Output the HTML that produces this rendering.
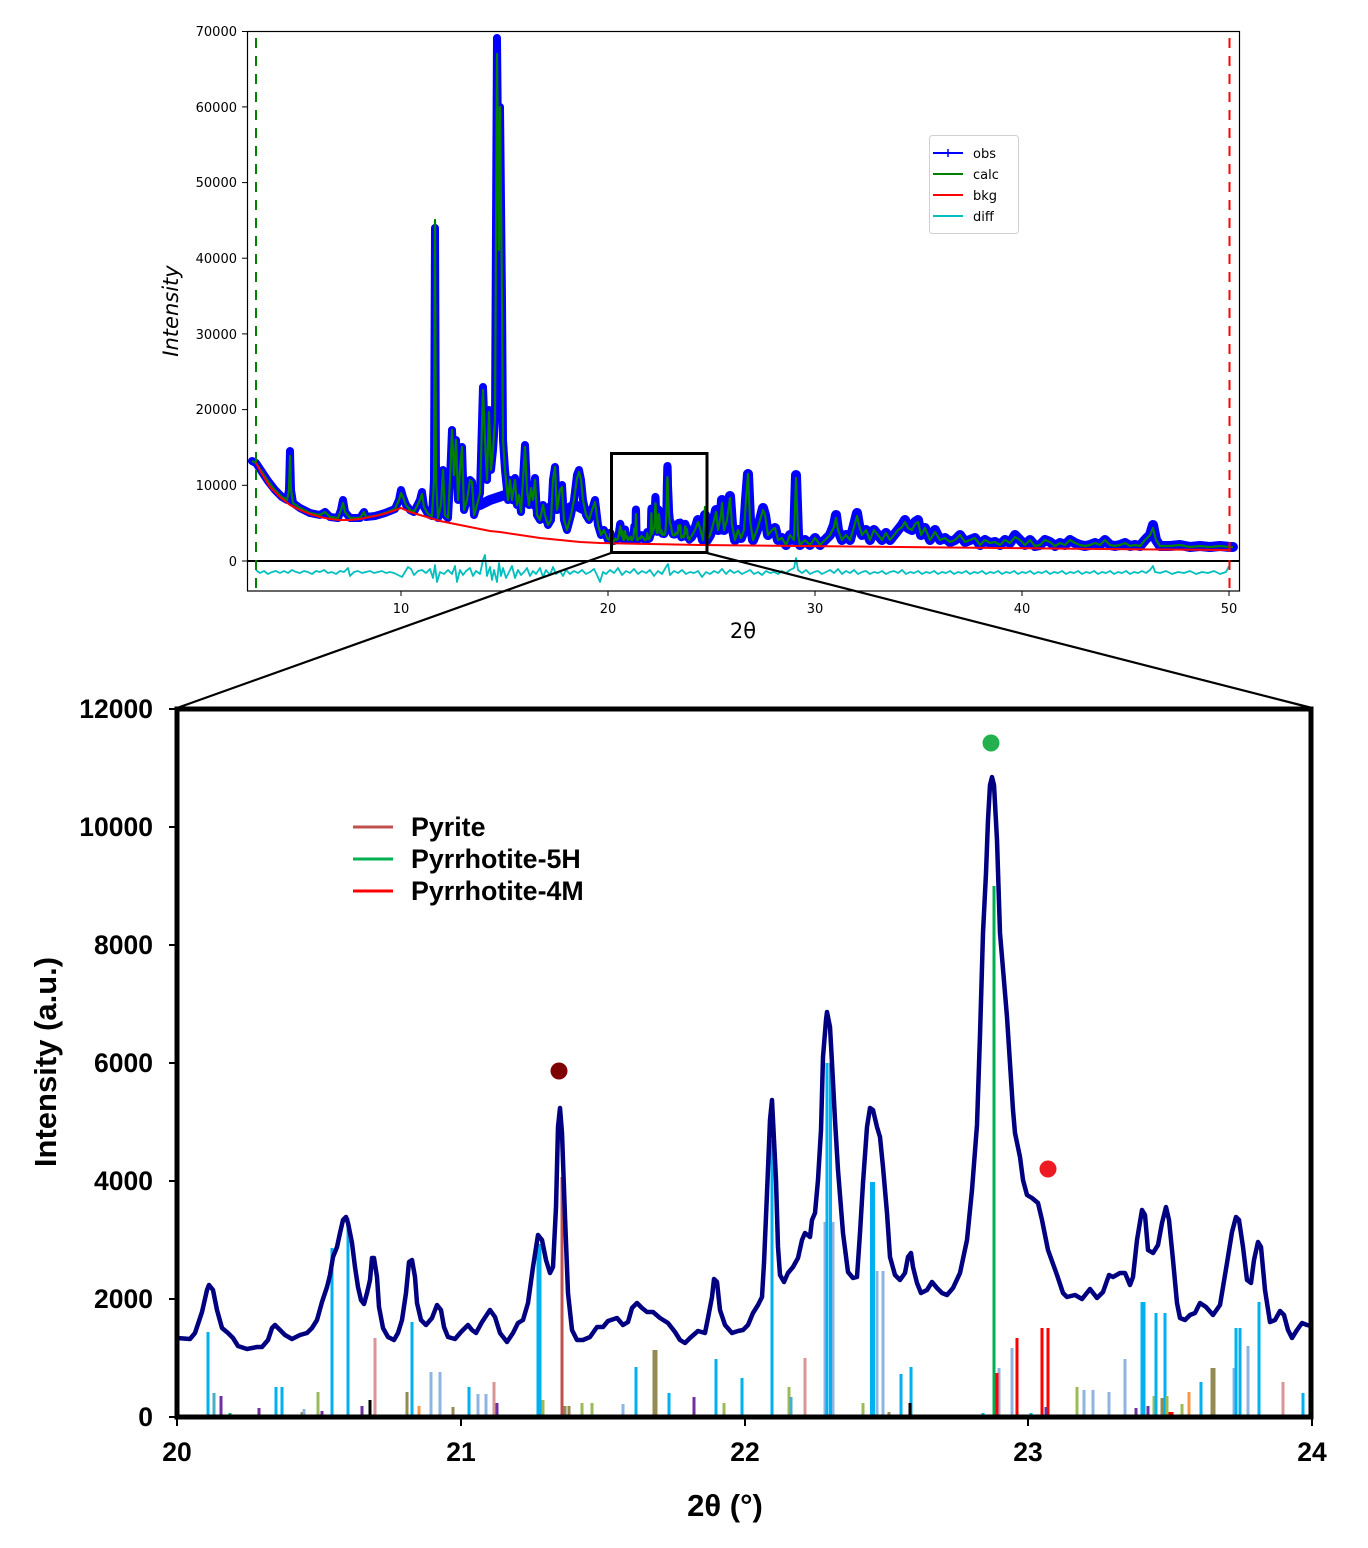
<!DOCTYPE html>
<html><head><meta charset="utf-8"><style>
html,body{margin:0;padding:0;background:#fff;}
svg{display:block;}
.t{font-family:"DejaVu Sans","Liberation Sans",sans-serif;font-size:13px;fill:#000;}
.b{font-family:"Liberation Sans",Arial,sans-serif;font-weight:bold;fill:#000;}
</style></head><body>
<svg width="1368" height="1548" viewBox="0 0 1368 1548" xmlns="http://www.w3.org/2000/svg">
<rect width="1368" height="1548" fill="#fff"/>

<!-- ================= TOP PLOT ================= -->
<!-- obs (blue, thick) -->
<g fill="none" stroke="#0000ff" stroke-width="8" stroke-linejoin="round" stroke-linecap="round">
<path d="M252,461 L256,463 262,472 268,481 275,490 282,497 287,500 289,490 290,451 291,490 293,503 300,508 310,513 320,515 325,512 330,517 338,518 341,510 343,500 345,512 350,518 360,518 364,512 366,517 375,516 385,513 395,509 399,500 401,490 403,497 406,505 410,510 414,512 420,500 422,492 424,507 428,514 432,516 434,480 435,228 436,480 438,518 441,505 443,470 445,515 448,518 450,480 452,430 454,475 456,440 458,500 460,470 462,447 464,510 467,500 470,480 472,482 474,515 477,505 480,493 483,387 485,440 487,480 489,410 491,470 493,450 495,420 497,38 499,250 500,107 502,300 503,440 505,470 508,500 510,480 512,500 515,478 517,505 519,495 521,512 523,480 525,445 527,490 529,505 531,488 533,500 535,478 537,515 540,520 543,505 545,515 548,525 551,520 553,480 555,467 557,510 560,490 562,485 564,520 567,530 571,515 574,500 577,475 579,470 581,480 583,500 586,515 589,520 592,510 595,500 598,525 601,535 604,530 608,540"/>
<path d="M470,490 L480,505 490,500 505,495 515,500 525,495 535,505 545,510 555,505 565,510 575,505 585,510 595,515" stroke-width="10"/>
<path vector-effect="non-scaling-stroke" transform="matrix(0.07295,0,0,0.1314,595.09,363.9)" d="M177,1338 L190,1339 195,1333 202,1312 207,1290 209,1285 213,1290 217,1310 222,1328 228,1333 233,1338 238,1346 247,1349 257,1347 262,1347 268,1340 272,1328 275,1325 280,1330 285,1335 292,1339 300,1335 307,1333 312,1328 317,1320 322,1302 327,1287 330,1275 333,1257 337,1247 340,1233 343,1220 346,1217 348,1223 352,1243 355,1267 358,1287 361,1300 364,1304 367,1293 370,1280 372,1258 374,1258 377,1277 379,1307 383,1328 388,1337 394,1340 398,1333 402,1320 406,1293 409,1262 412,1260 415,1277 417,1303 421,1320 426,1325 432,1318 437,1305 441,1310 444,1327 448,1337 455,1339 461,1332 468,1325 472,1330 476,1333 482,1322 490,1310 495,1317 500,1333 507,1342 513,1333 518,1323 523,1320 528,1303 533,1267 538,1235 542,1240 546,1260 550,1273 553,1267 556,1207 558,1127 560,1108 562,1133 565,1217 568,1293 572,1330 577,1340 583,1340 590,1337 597,1327 603,1327 608,1321 617,1318 623,1325 628,1322 632,1308 637,1303 642,1308 647,1312 653,1312 660,1318 668,1323 675,1332 680,1340 685,1343 690,1338 698,1331 705,1333 708,1318 712,1297 714,1279 717,1282 720,1310 725,1325 732,1333 738,1331 743,1330 748,1325 753,1313 758,1305 762,1297 764,1263 767,1193 770,1120 772,1100 773,1120 776,1180 778,1247 780,1275 784,1282 788,1273 793,1267 798,1258 802,1240 805,1233 810,1237 812,1220 815,1213 818,1180 821,1130 823,1057 826,1020 827,1012 830,1027 832,1063 835,1120 838,1170 843,1233 848,1272 853,1278 857,1277 860,1233 863,1183 867,1127 870,1108 873,1110 877,1127 880,1137 883,1167 887,1213 890,1257 895,1275 900,1280 905,1273 908,1257 911,1253 913,1267 917,1283 921,1293 927,1290 932,1282 937,1288 942,1293 947,1295 953,1288 960,1273 967,1240 972,1190 977,1125 980,1035 983,933 986,873 988,820 990,785 992,777 994,785 997,840 1000,933 1007,1017 1013,1110 1015,1133 1020,1157 1023,1180 1027,1195 1032,1198 1038,1203 1042,1220 1048,1250 1057,1275 1063,1293 1067,1297 1075,1295 1082,1299 1090,1289 1097,1298 1103,1292 1109,1275 1113,1277 1120,1273 1125,1273 1130,1285 1133,1277 1137,1240 1142,1210 1145,1215 1148,1250 1153,1253 1158,1245 1162,1223 1166,1207 1169,1220 1173,1260 1177,1303 1180,1318 1185,1320 1190,1315 1195,1313 1200,1303 1206,1307 1213,1315 1220,1305 1223,1287 1227,1263 1232,1232 1236,1217 1239,1220 1243,1247 1247,1280 1251,1283 1254,1260 1258,1242 1261,1247 1265,1290 1270,1322 1275,1320 1280,1311 1284,1315 1288,1330 1292,1338 1297,1330 1302,1323 1307,1325 1311,1326"/>
<path stroke-width="10" d="M691,537 L695,530 698,520 700,528 703,540 705,515 707,540 710,535 713,525 716,510 718,530 721,515 722,500 724,530 727,520 730,496 732,525 735,540 738,530 741,538 744,530 746,500 748,474 750,520 753,540 757,530 760,520 763,508 765,515 768,535 772,530 775,528 778,540 782,538 786,545 790,535 794,540 796,475 798,535 800,545 805,540 810,545 815,538 820,545 825,540 830,535 834,525 836,515 838,530 842,540 846,535 850,540 854,525 857,513 859,525 862,535 866,530 870,540 874,530 878,535 882,540 886,533 890,540 894,535 898,530 902,525 905,520 908,528 912,530 915,522 918,520 921,535 925,528 930,540 935,530 940,540 945,538 950,542 955,540 960,535 965,542 970,540 975,538 980,545 985,540 990,543 995,542 1000,545 1005,540 1010,543 1015,535 1020,540 1025,545 1030,540 1035,546 1040,545 1045,540 1050,542 1055,546 1060,543 1065,545 1070,540 1075,543 1080,545 1085,546 1090,545 1095,543 1100,545 1105,540 1110,545 1115,546 1120,545 1125,543 1130,546 1135,545 1140,546 1145,540 1150,535 1153,525 1156,540 1160,546 1170,546 1180,545 1190,547 1200,546 1210,547 1220,546 1230,547 1233,547"/>
</g>
<!-- calc (green) -->
<g fill="none" stroke="#008000" stroke-width="2.2" stroke-linejoin="round">
<path d="M252,461 L256,463 262,472 268,481 275,490 282,497 287,500 289,490 290,456 291,490 293,503 300,508 310,513 320,515 325,512 330,517 338,518 341,510 343,503 345,512 350,518 360,518 364,512 366,517 375,516 385,513 395,509 399,500 401,493 403,497 406,505 410,510 414,512 420,500 422,494 424,507 428,514 432,516 434,480 435,220 436,480 438,518 441,505 443,470 445,515 448,518 450,480 452,430 454,475 456,440 458,500 460,470 462,447 464,510 467,500 470,480 472,482 474,515 477,505 480,493 483,390 485,440 487,480 489,412 491,470 493,450 495,420 497,54 499,250 500,107 502,300 503,440 505,470 508,500 510,480 512,500 515,480 517,505 519,495 521,512 523,480 525,447 527,490 529,505 531,488 533,500 535,480 537,515 540,520 543,505 545,515 548,525 551,520 553,480 555,467 557,510 560,490 562,487 564,520 567,530 571,515 574,500 577,478 579,472 581,480 583,500 586,515 589,520 592,510 595,502 598,525 601,535 604,530 608,540"/>
<path vector-effect="non-scaling-stroke" transform="matrix(0.07295,0,0,0.1119,595.09,390.1)" d="M177,1338 L190,1339 195,1333 202,1312 207,1290 209,1285 213,1290 217,1310 222,1328 228,1333 233,1338 238,1346 247,1349 257,1347 262,1347 268,1340 272,1328 275,1325 280,1330 285,1335 292,1339 300,1335 307,1333 312,1328 317,1320 322,1302 327,1287 330,1275 333,1257 337,1247 340,1233 343,1220 346,1217 348,1223 352,1243 355,1267 358,1287 361,1300 364,1304 367,1293 370,1280 372,1258 374,1258 377,1277 379,1307 383,1328 388,1337 394,1340 398,1333 402,1320 406,1293 409,1262 412,1260 415,1277 417,1303 421,1320 426,1325 432,1318 437,1305 441,1310 444,1327 448,1337 455,1339 461,1332 468,1325 472,1330 476,1333 482,1322 490,1310 495,1317 500,1333 507,1342 513,1333 518,1323 523,1320 528,1303 533,1267 538,1235 542,1240 546,1260 550,1273 553,1267 556,1207 558,1127 560,1108 562,1133 565,1217 568,1293 572,1330 577,1340 583,1340 590,1337 597,1327 603,1327 608,1321 617,1318 623,1325 628,1322 632,1308 637,1303 642,1308 647,1312 653,1312 660,1318 668,1323 675,1332 680,1340 685,1343 690,1338 698,1331 705,1333 708,1318 712,1297 714,1279 717,1282 720,1310 725,1325 732,1333 738,1331 743,1330 748,1325 753,1313 758,1305 762,1297 764,1263 767,1193 770,1120 772,1100 773,1120 776,1180 778,1247 780,1275 784,1282 788,1273 793,1267 798,1258 802,1240 805,1233 810,1237 812,1220 815,1213 818,1180 821,1130 823,1057 826,1020 827,1012 830,1027 832,1063 835,1120 838,1170 843,1233 848,1272 853,1278 857,1277 860,1233 863,1183 867,1127 870,1108 873,1110 877,1127 880,1137 883,1167 887,1213 890,1257 895,1275 900,1280 905,1273 908,1257 911,1253 913,1267 917,1283 921,1293 927,1290 932,1282 937,1288 942,1293 947,1295 953,1288 960,1273 967,1240 972,1190 977,1125 980,1035 983,933 986,873 988,820 990,785 992,777 994,785 997,840 1000,933 1007,1017 1013,1110 1015,1133 1020,1157 1023,1180 1027,1195 1032,1198 1038,1203 1042,1220 1048,1250 1057,1275 1063,1293 1067,1297 1075,1295 1082,1299 1090,1289 1097,1298 1103,1292 1109,1275 1113,1277 1120,1273 1125,1273 1130,1285 1133,1277 1137,1240 1142,1210 1145,1215 1148,1250 1153,1253 1158,1245 1162,1223 1166,1207 1169,1220 1173,1260 1177,1303 1180,1318 1185,1320 1190,1315 1195,1313 1200,1303 1206,1307 1213,1315 1220,1305 1223,1287 1227,1263 1232,1232 1236,1217 1239,1220 1243,1247 1247,1280 1251,1283 1254,1260 1258,1242 1261,1247 1265,1290 1270,1322 1275,1320 1280,1311 1284,1315 1288,1330 1292,1338 1297,1330 1302,1323 1307,1325 1311,1326"/>
<path d="M691,537 L695,530 698,522 700,528 703,540 705,507 707,540 710,535 713,525 716,512 718,530 721,515 722,503 724,530 727,520 730,498 732,525 735,540 738,530 741,538 744,530 746,500 748,474 750,520 753,540 757,530 760,520 763,510 765,515 768,535 772,530 775,528 778,540 782,538 786,545 790,535 794,540 796,478 798,535 800,545 805,540 810,545 815,538 820,545 825,540 830,535 834,527 836,518 838,530 842,540 846,535 850,540 854,527 857,516 859,525 862,535 866,530 870,540 874,530 878,535 882,540 886,533 890,540 894,535 898,530 902,527 905,522 908,528 912,530 915,524 918,522 921,535 925,528 930,540 935,532 940,540 945,538 950,542 955,540 960,535 965,542 970,540 975,538 980,545 985,540 990,543 995,542 1000,545 1005,540 1010,543 1015,537 1020,540 1025,545 1030,540 1035,546 1040,545 1045,540 1050,542 1055,546 1060,543 1065,545 1070,540 1075,543 1080,545 1085,546 1090,545 1095,543 1100,545 1105,540 1110,545 1115,546 1120,545 1125,543 1130,546 1135,545 1140,546 1145,540 1150,535 1153,528 1156,540 1160,546 1170,546 1180,545 1190,547 1200,546 1210,547 1220,546 1230,547 1233,547"/>
</g>
<!-- bkg -->
<path fill="none" stroke="#ff0000" stroke-width="2" d="M256,463 L262,474 270,487 280,497 290,505 300,510 310,514 320,517 330,519 340,520 350,520 360,519 370,517 380,515 390,512 401,508 410,512 420,515 430,518 440,521 450,523 460,525 470,527 480,529 490,531 500,532 520,535 540,538 560,540 580,542 600,543 650,544 700,545 800,546 900,547 1000,548 1100,549 1229,550"/>
<!-- diff -->
<path fill="none" stroke="#00bfbf" stroke-width="1.8" stroke-linejoin="round" d="M256,570 L260,573 264,571 268,574 272,572 276,571 280,573 284,571 288,573 292,570 296,572 300,573 304,571 308,572 312,574 316,571 320,572 324,570 328,573 332,572 336,574 340,571 344,572 348,568 350,576 354,572 358,571 362,573 366,572 370,571 374,573 378,572 382,571 386,573 390,572 394,573 398,575 402,577 405,572 408,567 411,569 414,575 418,571 422,570 426,573 430,569 433,578 435,565 437,582 440,572 444,574 448,570 452,574 455,566 457,582 460,570 463,575 466,571 470,568 473,576 476,571 480,574 483,560 485,555 487,576 490,567 492,580 494,570 497,582 499,563 501,576 503,568 506,578 509,572 512,566 515,578 518,570 521,575 524,572 527,568 530,576 533,571 536,574 540,568 543,577 546,570 550,575 553,567 556,574 560,571 563,576 566,570 570,574 574,571 578,573 582,570 586,574 590,572 594,569 597,575 600,582 603,572 606,574 610,570 614,573 618,568 622,575 626,571 630,573 634,569 638,574 642,571 646,573 650,570 654,576 658,571 662,574 666,567 668,564 670,575 674,571 678,573 682,570 686,574 690,572 694,573 698,571 702,577 706,572 710,574 714,571 718,573 722,569 726,574 730,570 734,573 738,571 742,574 746,572 750,570 754,574 758,572 762,575 766,571 770,573 774,572 778,574 782,571 786,573 790,570 794,568 796,558 798,570 802,573 806,570 810,574 814,572 818,571 822,574 826,572 830,570 834,573 838,569 842,574 846,571 850,573 854,570 858,574 862,572 866,571 870,574 874,572 878,573 882,571 886,574 890,572 894,571 898,573 902,570 906,574 910,572 914,573 918,571 922,574 926,572 930,573 934,571 938,574 942,572 946,573 950,571 954,574 958,572 962,573 966,571 970,574 974,572 978,573 982,571 986,574 990,572 994,573 998,571 1002,574 1006,572 1010,573 1014,571 1018,574 1022,572 1026,573 1030,571 1034,574 1038,572 1042,573 1046,571 1050,574 1054,572 1058,573 1062,571 1066,574 1070,572 1074,573 1078,571 1082,574 1086,572 1090,573 1094,571 1098,574 1102,572 1106,573 1110,571 1114,574 1118,572 1122,573 1126,571 1130,574 1134,572 1138,573 1142,571 1146,573 1150,570 1153,566 1155,572 1160,573 1166,571 1172,574 1178,572 1184,573 1190,571 1196,574 1202,572 1208,573 1214,571 1220,574 1226,572 1229,566"/>
<!-- zero line -->
<line x1="247" y1="561" x2="1240" y2="561" stroke="#000" stroke-width="2"/>
<!-- range dashed lines -->
<line x1="256" y1="38" x2="256" y2="591" stroke="#008000" stroke-width="2" stroke-dasharray="10,8"/>
<line x1="1229.5" y1="38" x2="1229.5" y2="591" stroke="#ff0000" stroke-width="2" stroke-dasharray="10,8"/>
<!-- top frame -->
<rect x="247.5" y="31.5" width="992" height="559.5" fill="none" stroke="#000" stroke-width="1.2"/>
<!-- top y ticks -->
<g stroke="#000" stroke-width="1">
<line x1="242" y1="561" x2="247" y2="561"/>
<line x1="242" y1="485.3" x2="247" y2="485.3"/>
<line x1="242" y1="409.6" x2="247" y2="409.6"/>
<line x1="242" y1="333.9" x2="247" y2="333.9"/>
<line x1="242" y1="258.2" x2="247" y2="258.2"/>
<line x1="242" y1="182.6" x2="247" y2="182.6"/>
<line x1="242" y1="106.9" x2="247" y2="106.9"/>
<line x1="242" y1="31.5" x2="247" y2="31.5"/>
<line x1="401" y1="591" x2="401" y2="596"/>
<line x1="608" y1="591" x2="608" y2="596"/>
<line x1="815" y1="591" x2="815" y2="596"/>
<line x1="1022" y1="591" x2="1022" y2="596"/>
<line x1="1229" y1="591" x2="1229" y2="596"/>
</g>
<g class="t" text-anchor="end">
<text x="237" y="566">0</text>
<text x="237" y="490">10000</text>
<text x="237" y="414">20000</text>
<text x="237" y="339">30000</text>
<text x="237" y="263">40000</text>
<text x="237" y="187">50000</text>
<text x="237" y="112">60000</text>
<text x="237" y="36">70000</text>
</g>
<g class="t" text-anchor="middle">
<text x="401" y="613">10</text>
<text x="608" y="613">20</text>
<text x="815" y="613">30</text>
<text x="1022" y="613">40</text>
<text x="1229" y="613">50</text>
</g>
<text class="t" style="font-size:21px" x="743" y="638" text-anchor="middle">2θ</text>
<text class="t" style="font-size:21px;font-style:italic" transform="translate(178,311) rotate(-90)" text-anchor="middle">Intensity</text>
<!-- top legend -->
<rect x="929.5" y="135.5" width="89" height="98" rx="3" fill="#fff" stroke="#d0d0d0" stroke-width="1"/>
<g stroke-width="2">
<line x1="933" y1="153" x2="963" y2="153" stroke="#0000ff"/>
<line x1="944" y1="153" x2="952" y2="153" stroke="#0000ff"/>
<line x1="948" y1="149" x2="948" y2="157" stroke="#0000ff" stroke-width="1.5"/>
<line x1="933" y1="174" x2="963" y2="174" stroke="#008000"/>
<line x1="933" y1="195" x2="963" y2="195" stroke="#ff0000"/>
<line x1="933" y1="216" x2="963" y2="216" stroke="#00bfbf"/>
</g>
<g class="t">
<text x="973" y="158">obs</text>
<text x="973" y="179">calc</text>
<text x="973" y="200">bkg</text>
<text x="973" y="221">diff</text>
</g>

<!-- zoom box and connectors -->
<rect x="611.5" y="453.5" width="95.5" height="99" fill="none" stroke="#000" stroke-width="3"/>
<line x1="611" y1="553" x2="177" y2="708" stroke="#000" stroke-width="2.2"/>
<line x1="707" y1="553" x2="1312" y2="708" stroke="#000" stroke-width="2.2"/>

<!-- ================= BOTTOM PLOT ================= -->
<!-- reference sticks -->
<g stroke-width="3">
<line x1="208" y1="1417" x2="208" y2="1332" stroke="#00b0f0"/>
<line x1="214" y1="1417" x2="214" y2="1393" stroke="#4bacc6"/>
<line x1="221" y1="1417" x2="221" y2="1396" stroke="#7030a0"/>
<line x1="230" y1="1417" x2="230" y2="1413" stroke="#00b050"/>
<line x1="259" y1="1417" x2="259" y2="1408" stroke="#7030a0"/>
<line x1="276" y1="1417" x2="276" y2="1387" stroke="#00b0f0"/>
<line x1="282" y1="1417" x2="282" y2="1387" stroke="#00b0f0"/>
<line x1="302" y1="1417" x2="302" y2="1412" stroke="#948a54"/>
<line x1="304" y1="1417" x2="304" y2="1409" stroke="#8db4e2"/>
<line x1="318" y1="1417" x2="318" y2="1392" stroke="#9bbb59"/>
<line x1="322" y1="1417" x2="322" y2="1411" stroke="#7030a0"/>
<line x1="332" y1="1417" x2="332" y2="1248" stroke="#00b0f0"/>
<line x1="348" y1="1417" x2="348" y2="1218" stroke="#00b0f0"/>
<line x1="362" y1="1417" x2="362" y2="1406" stroke="#7030a0"/>
<line x1="370" y1="1417" x2="370" y2="1400" stroke="#000"/>
<line x1="375" y1="1417" x2="375" y2="1338" stroke="#da9694"/>
<line x1="407" y1="1417" x2="407" y2="1392" stroke="#948a54"/>
<line x1="412" y1="1417" x2="412" y2="1322" stroke="#00b0f0"/>
<line x1="419" y1="1417" x2="419" y2="1406" stroke="#f79646"/>
<line x1="431" y1="1417" x2="431" y2="1372" stroke="#8db4e2"/>
<line x1="440" y1="1417" x2="440" y2="1372" stroke="#8db4e2"/>
<line x1="453" y1="1417" x2="453" y2="1407" stroke="#948a54"/>
<line x1="469" y1="1417" x2="469" y2="1387" stroke="#00b0f0"/>
<line x1="478" y1="1417" x2="478" y2="1394" stroke="#8db4e2"/>
<line x1="486" y1="1417" x2="486" y2="1394" stroke="#8db4e2"/>
<line x1="494" y1="1417" x2="494" y2="1382" stroke="#da9694"/>
<line x1="497" y1="1417" x2="497" y2="1403" stroke="#7030a0"/>
<line x1="539" y1="1417" x2="539" y2="1244" stroke="#00b0f0" stroke-width="5"/>
<line x1="543" y1="1417" x2="543" y2="1400" stroke="#9bbb59"/>
<line x1="562" y1="1417" x2="562" y2="1177" stroke="#c0504d"/>
<line x1="565" y1="1417" x2="565" y2="1406" stroke="#948a54"/>
<line x1="569" y1="1417" x2="569" y2="1406" stroke="#948a54"/>
<line x1="582" y1="1417" x2="582" y2="1403" stroke="#9bbb59"/>
<line x1="592" y1="1417" x2="592" y2="1403" stroke="#9bbb59"/>
<line x1="623" y1="1417" x2="623" y2="1404" stroke="#8db4e2"/>
<line x1="636" y1="1417" x2="636" y2="1367" stroke="#00b0f0"/>
<line x1="655" y1="1417" x2="655" y2="1350" stroke="#948a54" stroke-width="5"/>
<line x1="669" y1="1417" x2="669" y2="1393" stroke="#00b0f0"/>
<line x1="694" y1="1417" x2="694" y2="1397" stroke="#7030a0"/>
<line x1="716" y1="1417" x2="716" y2="1359" stroke="#00b0f0"/>
<line x1="724" y1="1417" x2="724" y2="1403" stroke="#9bbb59"/>
<line x1="742" y1="1417" x2="742" y2="1378" stroke="#00b0f0"/>
<line x1="772" y1="1417" x2="772" y2="1140" stroke="#00b0f0"/>
<line x1="789" y1="1417" x2="789" y2="1387" stroke="#9bbb59"/>
<line x1="791" y1="1417" x2="791" y2="1397" stroke="#4bacc6"/>
<line x1="805" y1="1417" x2="805" y2="1358" stroke="#da9694"/>
<line x1="825" y1="1417" x2="825" y2="1222" stroke="#8db4e2"/>
<line x1="833" y1="1417" x2="833" y2="1222" stroke="#8db4e2"/>
<line x1="827" y1="1417" x2="827" y2="1063" stroke="#00b0f0"/>
<line x1="830.5" y1="1417" x2="830.5" y2="1063" stroke="#00b0f0"/>
<line x1="863" y1="1417" x2="863" y2="1403" stroke="#9bbb59"/>
<line x1="872.5" y1="1417" x2="872.5" y2="1182" stroke="#00b0f0" stroke-width="5"/>
<line x1="877" y1="1417" x2="877" y2="1271" stroke="#8db4e2"/>
<line x1="883" y1="1417" x2="883" y2="1271" stroke="#8db4e2"/>
<line x1="889" y1="1417" x2="889" y2="1412" stroke="#948a54"/>
<line x1="901" y1="1417" x2="901" y2="1374" stroke="#00b0f0"/>
<line x1="911" y1="1417" x2="911" y2="1367" stroke="#00b0f0"/>
<line x1="910" y1="1417" x2="910" y2="1403" stroke="#000"/>
<line x1="983" y1="1417" x2="983" y2="1413" stroke="#00b0f0"/>
<line x1="994" y1="1417" x2="994" y2="886" stroke="#00b050"/>
<line x1="999" y1="1417" x2="999" y2="1368" stroke="#8db4e2"/>
<line x1="997" y1="1417" x2="997" y2="1373" stroke="#ff0000"/>
<line x1="1012" y1="1417" x2="1012" y2="1348" stroke="#8db4e2"/>
<line x1="1017" y1="1417" x2="1017" y2="1338" stroke="#ff0000"/>
<line x1="1031" y1="1417" x2="1031" y2="1413" stroke="#00b0f0"/>
<line x1="1042" y1="1417" x2="1042" y2="1328" stroke="#ff0000"/>
<line x1="1048" y1="1417" x2="1048" y2="1328" stroke="#ff0000"/>
<line x1="1046" y1="1417" x2="1046" y2="1407" stroke="#7030a0"/>
<line x1="1077" y1="1417" x2="1077" y2="1387" stroke="#9bbb59"/>
<line x1="1084" y1="1417" x2="1084" y2="1390" stroke="#8db4e2"/>
<line x1="1093" y1="1417" x2="1093" y2="1390" stroke="#8db4e2"/>
<line x1="1109" y1="1417" x2="1109" y2="1392" stroke="#8db4e2"/>
<line x1="1125" y1="1417" x2="1125" y2="1359" stroke="#8db4e2"/>
<line x1="1136" y1="1417" x2="1136" y2="1408" stroke="#7030a0"/>
<line x1="1143" y1="1417" x2="1143" y2="1302" stroke="#00b0f0" stroke-width="5"/>
<line x1="1148" y1="1417" x2="1148" y2="1406" stroke="#7030a0"/>
<line x1="1154" y1="1417" x2="1154" y2="1396" stroke="#9bbb59"/>
<line x1="1156" y1="1417" x2="1156" y2="1313" stroke="#00b0f0"/>
<line x1="1162" y1="1417" x2="1162" y2="1398" stroke="#948a54"/>
<line x1="1165" y1="1417" x2="1165" y2="1313" stroke="#00b0f0"/>
<line x1="1167" y1="1417" x2="1167" y2="1396" stroke="#9bbb59"/>
<line x1="1171" y1="1417" x2="1171" y2="1412" stroke="#ff0000" stroke-width="5"/>
<line x1="1182" y1="1417" x2="1182" y2="1404" stroke="#9bbb59"/>
<line x1="1189" y1="1417" x2="1189" y2="1392" stroke="#f79646"/>
<line x1="1201" y1="1417" x2="1201" y2="1382" stroke="#00b0f0"/>
<line x1="1213" y1="1417" x2="1213" y2="1368" stroke="#948a54" stroke-width="5"/>
<line x1="1234" y1="1417" x2="1234" y2="1368" stroke="#8db4e2"/>
<line x1="1236" y1="1417" x2="1236" y2="1328" stroke="#00b0f0"/>
<line x1="1240" y1="1417" x2="1240" y2="1328" stroke="#00b0f0"/>
<line x1="1248" y1="1417" x2="1248" y2="1346" stroke="#8db4e2"/>
<line x1="1259" y1="1417" x2="1259" y2="1302" stroke="#00b0f0"/>
<line x1="1283" y1="1417" x2="1283" y2="1382" stroke="#da9694"/>
<line x1="1303" y1="1417" x2="1303" y2="1393" stroke="#00b0f0"/>
</g>
<!-- measured pattern -->
<path fill="none" stroke="#000080" stroke-width="4.5" stroke-linejoin="round" stroke-linecap="round" d="M177,1338 L190,1339 195,1333 202,1312 207,1290 209,1285 213,1290 217,1310 222,1328 228,1333 233,1338 238,1346 247,1349 257,1347 262,1347 268,1340 272,1328 275,1325 280,1330 285,1335 292,1339 300,1335 307,1333 312,1328 317,1320 322,1302 327,1287 330,1275 333,1257 337,1247 340,1233 343,1220 346,1217 348,1223 352,1243 355,1267 358,1287 361,1300 364,1304 367,1293 370,1280 372,1258 374,1258 377,1277 379,1307 383,1328 388,1337 394,1340 398,1333 402,1320 406,1293 409,1262 412,1260 415,1277 417,1303 421,1320 426,1325 432,1318 437,1305 441,1310 444,1327 448,1337 455,1339 461,1332 468,1325 472,1330 476,1333 482,1322 490,1310 495,1317 500,1333 507,1342 513,1333 518,1323 523,1320 528,1303 533,1267 538,1235 542,1240 546,1260 550,1273 553,1267 556,1207 558,1127 560,1108 562,1133 565,1217 568,1293 572,1330 577,1340 583,1340 590,1337 597,1327 603,1327 608,1321 617,1318 623,1325 628,1322 632,1308 637,1303 642,1308 647,1312 653,1312 660,1318 668,1323 675,1332 680,1340 685,1343 690,1338 698,1331 705,1333 708,1318 712,1297 714,1279 717,1282 720,1310 725,1325 732,1333 738,1331 743,1330 748,1325 753,1313 758,1305 762,1297 764,1263 767,1193 770,1120 772,1100 773,1120 776,1180 778,1247 780,1275 784,1282 788,1273 793,1267 798,1258 802,1240 805,1233 810,1237 812,1220 815,1213 818,1180 821,1130 823,1057 826,1020 827,1012 830,1027 832,1063 835,1120 838,1170 843,1233 848,1272 853,1278 857,1277 860,1233 863,1183 867,1127 870,1108 873,1110 877,1127 880,1137 883,1167 887,1213 890,1257 895,1275 900,1280 905,1273 908,1257 911,1253 913,1267 917,1283 921,1293 927,1290 932,1282 937,1288 942,1293 947,1295 953,1288 960,1273 967,1240 972,1190 977,1125 980,1035 983,933 986,873 988,820 990,785 992,777 994,785 997,840 1000,933 1007,1017 1013,1110 1015,1133 1020,1157 1023,1180 1027,1195 1032,1198 1038,1203 1042,1220 1048,1250 1057,1275 1063,1293 1067,1297 1075,1295 1082,1299 1090,1289 1097,1298 1103,1292 1109,1275 1113,1277 1120,1273 1125,1273 1130,1285 1133,1277 1137,1240 1142,1210 1145,1215 1148,1250 1153,1253 1158,1245 1162,1223 1166,1207 1169,1220 1173,1260 1177,1303 1180,1318 1185,1320 1190,1315 1195,1313 1200,1303 1206,1307 1213,1315 1220,1305 1223,1287 1227,1263 1232,1232 1236,1217 1239,1220 1243,1247 1247,1280 1251,1283 1254,1260 1258,1242 1261,1247 1265,1290 1270,1322 1275,1320 1280,1311 1284,1315 1288,1330 1292,1338 1297,1330 1302,1323 1307,1325 1311,1326"/>
<!-- phase markers -->
<circle cx="559" cy="1071" r="8.5" fill="#7f0000"/>
<circle cx="991" cy="743" r="8.5" fill="#22b14c"/>
<circle cx="1048" cy="1169" r="8.5" fill="#ed1c24"/>
<!-- frame -->
<rect x="177" y="709" width="1134" height="708" fill="none" stroke="#000" stroke-width="5"/>
<!-- ticks -->
<g stroke="#000" stroke-width="2">
<line x1="169" y1="1417" x2="177" y2="1417"/>
<line x1="169" y1="1299" x2="177" y2="1299"/>
<line x1="169" y1="1181" x2="177" y2="1181"/>
<line x1="169" y1="1063" x2="177" y2="1063"/>
<line x1="169" y1="945" x2="177" y2="945"/>
<line x1="169" y1="827" x2="177" y2="827"/>
<line x1="169" y1="709" x2="177" y2="709"/>
<line x1="177" y1="1417" x2="177" y2="1426"/>
<line x1="461" y1="1417" x2="461" y2="1426"/>
<line x1="745" y1="1417" x2="745" y2="1426"/>
<line x1="1028" y1="1417" x2="1028" y2="1426"/>
<line x1="1312" y1="1417" x2="1312" y2="1426"/>
</g>
<g class="b" style="font-size:26.5px" text-anchor="end">
<text x="153" y="1426">0</text>
<text x="153" y="1308">2000</text>
<text x="153" y="1190">4000</text>
<text x="153" y="1072">6000</text>
<text x="153" y="954">8000</text>
<text x="153" y="836">10000</text>
<text x="153" y="718">12000</text>
</g>
<g class="b" style="font-size:26.5px" text-anchor="middle">
<text x="177" y="1461">20</text>
<text x="461" y="1461">21</text>
<text x="745" y="1461">22</text>
<text x="1028" y="1461">23</text>
<text x="1312" y="1461">24</text>
</g>
<text class="b" style="font-size:31px" x="725" y="1516" text-anchor="middle">2θ (°)</text>
<text class="b" style="font-size:31px" transform="translate(56,1062) rotate(-90)" text-anchor="middle">Intensity (a.u.)</text>
<!-- bottom legend -->
<g stroke-width="3">
<line x1="353" y1="827" x2="393" y2="827" stroke="#c0504d"/>
<line x1="353" y1="859" x2="393" y2="859" stroke="#00b050"/>
<line x1="353" y1="891" x2="393" y2="891" stroke="#ff0000"/>
</g>
<g class="b" style="font-size:26.8px">
<text x="411" y="836">Pyrite</text>
<text x="411" y="868">Pyrrhotite-5H</text>
<text x="411" y="900">Pyrrhotite-4M</text>
</g>
</svg>
</body></html>
